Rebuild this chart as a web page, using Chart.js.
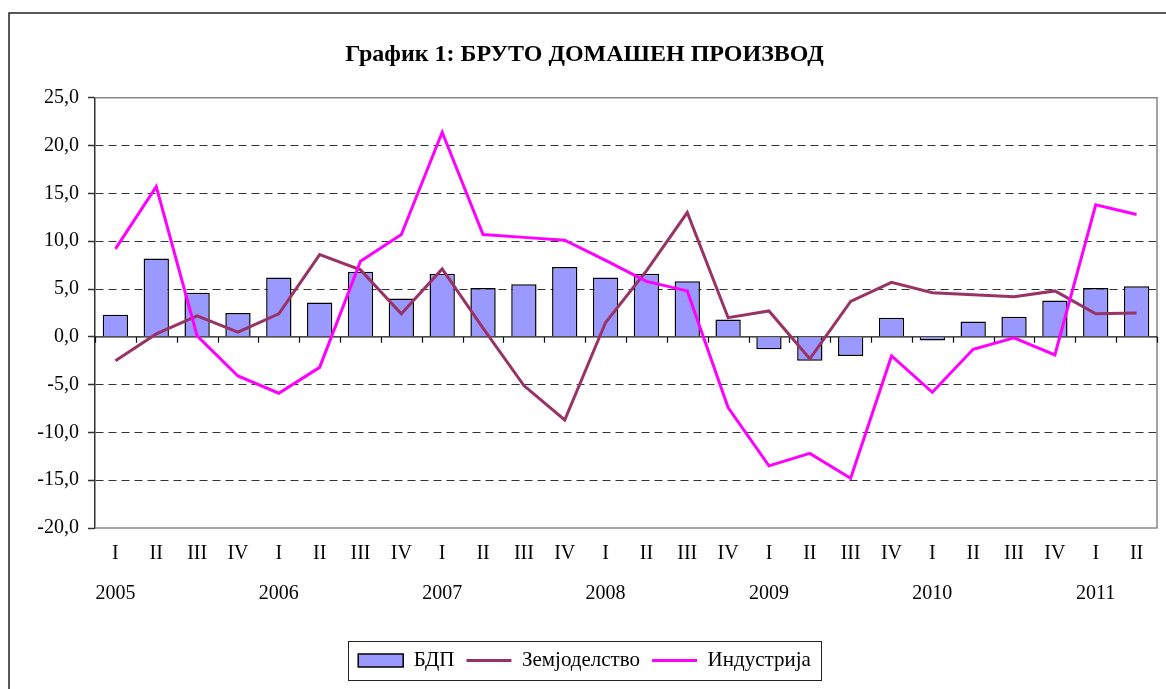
<!DOCTYPE html>
<html>
<head>
<meta charset="utf-8">
<script src="https://cdn.jsdelivr.net/npm/chart.js@4.4.1/dist/chart.umd.min.js"></script>
<style>
  html, body { margin: 0; padding: 0; background: #fff; }
  #wrap { width: 1166px; height: 689px; }
</style>
</head>
<body>
<div id="wrap"><canvas id="gdp-chart"></canvas></div>
<script>
// quarters 2005 I .. 2011 II
const quarters = ["I", "II", "III", "IV", "I", "II", "III", "IV", "I", "II", "III", "IV", "I",
  "II", "III", "IV", "I", "II", "III", "IV", "I", "II", "III", "IV", "I", "II"];
const years = ["2005", "", "", "", "2006", "", "", "", "2007", "", "", "", "2008",
  "", "", "", "2009", "", "", "", "2010", "", "", "", "2011", ""];

const gdp = [2.3, 8.2, 4.6, 2.5, 6.2, 3.6, 6.8, 4.0, 6.6, 5.1, 5.5, 7.3, 6.2,
  6.6, 5.8, 1.8, -1.3, -2.5, -2.0, 2.0, -0.4, 1.6, 2.1, 3.8, 5.1, 5.3];
const agriculture = [-2.5, 0.3, 2.2, 0.5, 2.4, 8.6, 7.0, 2.4, 7.1, 0.9, -5.1, -8.7, 1.5,
  6.9, 13.0, 2.0, 2.7, -2.3, 3.7, 5.7, 4.6, 4.4, 4.2, 4.8, 2.4, 2.5];
const industry = [9.2, 15.7, 0.1, -4.1, -5.9, -3.2, 7.9, 10.7, 21.4, 10.7, 10.4, 10.1, 8.0,
  5.8, 4.8, -7.4, -13.5, -12.2, -14.8, -2.0, -5.8, -1.3, -0.1, -1.9, 13.8, 12.8];

const yTicks = [-20, -15, -10, -5, 0, 5, 10, 15, 20, 25];

const serif = "'Liberation Serif', 'Times New Roman', serif";

// outer frame of the chart object
const framePlugin = {
  id: "frame",
  beforeDraw(chart) {
    const ctx = chart.ctx;
    ctx.save();
    ctx.fillStyle = "#fff";
    ctx.fillRect(0, 0, chart.width, chart.height);
    ctx.strokeStyle = "#222";
    ctx.lineWidth = 1.5;
    ctx.beginPath();
    ctx.moveTo(9, chart.height + 2);
    ctx.lineTo(9, 13);
    ctx.lineTo(chart.width + 2, 13);
    ctx.stroke();
    ctx.restore();
  },
};

// plot border, zero axis with category ticks, legend box
const axisPlugin = {
  id: "zeroAxis",
  beforeDatasetsDraw(chart) {
    const { ctx, chartArea: a, scales } = chart;
    const y0 = scales.y.getPixelForValue(0);
    ctx.save();
    ctx.strokeStyle = "#888";
    ctx.lineWidth = 1.5;
    ctx.beginPath();
    ctx.moveTo(a.left, a.top);
    ctx.lineTo(a.right, a.top);
    ctx.lineTo(a.right, a.bottom);
    ctx.lineTo(a.left, a.bottom);
    ctx.stroke();

    ctx.strokeStyle = "#111";
    ctx.lineWidth = 1.2;
    ctx.beginPath();
    ctx.moveTo(a.left, y0);
    ctx.lineTo(a.right, y0);
    const step = scales.x.getPixelForValue(1) - scales.x.getPixelForValue(0);
    for (let i = 0; i <= quarters.length; i++) {
      const x = Math.round(scales.x.getPixelForValue(i) - step / 2) + 0.5;
      ctx.moveTo(x, y0);
      ctx.lineTo(x, y0 + 6);
    }
    ctx.stroke();
    ctx.restore();
  },
  afterDraw(chart) {
    const boxes = chart.legend.legendHitBoxes;
    if (!boxes || !boxes.length) return;
    const ctx = chart.ctx;
    const left = boxes[0].left - 10;
    const last = boxes[boxes.length - 1];
    const right = last.left + last.width + 10;
    const top = boxes[0].top - 9;
    const bottom = boxes[0].top + boxes[0].height + 9;
    ctx.save();
    ctx.strokeStyle = "#222";
    ctx.lineWidth = 1;
    ctx.strokeRect(Math.round(left) + 0.5, Math.round(top) + 0.5, Math.round(right - left), Math.round(bottom - top));
    ctx.restore();
  },
};

const data = {
  labels: quarters.map((q, i) => [q, years[i]]),
  datasets: [
    {
      type: "bar",
      label: "БДП",
      data: gdp,
      backgroundColor: "#9999FF",
      borderColor: "#000",
      borderWidth: 1.5,
      barPercentage: 0.62,
      categoryPercentage: 1,
      order: 3,
    },
    {
      type: "line",
      label: "Земјоделство",
      data: agriculture,
      borderColor: "#993366",
      backgroundColor: "#993366",
      borderWidth: 3,
      pointRadius: 0,
      tension: 0,
      order: 2,
    },
    {
      type: "line",
      label: "Индустрија",
      data: industry,
      borderColor: "#FF00FF",
      backgroundColor: "#FF00FF",
      borderWidth: 3,
      pointRadius: 0,
      tension: 0,
      order: 1,
    },
  ],
};

const options = {
  responsive: true,
  maintainAspectRatio: false,
  animation: false,
  events: [],
  layout: { padding: { left: 12, right: 9, top: 0, bottom: 8 } },
  plugins: {
    title: {
      display: true,
      text: "График 1: БРУТО ДОМАШЕН ПРОИЗВОД",
      color: "#000",
      font: { family: serif, size: 24, weight: "bold" },
      padding: { top: 40, bottom: 29 },
    },
    legend: {
      position: "bottom",
      labels: {
        color: "#000",
        font: { family: serif, size: 21 },
        boxWidth: 45,
        boxHeight: 13,
        usePointStyle: true,
        pointStyleWidth: 45,
        padding: 12,
        sort: (a, b) => a.datasetIndex - b.datasetIndex,
        generateLabels(chart) {
          const items = Chart.defaults.plugins.legend.labels.generateLabels(chart);
          items.forEach((it) => {
            it.pointStyle = it.datasetIndex === 0 ? "rect" : "line";
          });
          return items;
        },
      },
    },
    tooltip: { enabled: false },
  },
  scales: {
    x: {
      grid: { display: false, drawTicks: false },
      border: { display: false },
      ticks: {
        color: "#000",
        font: { family: serif, size: 20, lineHeight: 2 },
        padding: 6,
        maxRotation: 0,
        autoSkip: false,
      },
      afterFit(scale) {
        scale.height = 110;
      },
    },
    y: {
      min: -20,
      max: 25,
      afterBuildTicks(scale) {
        scale.ticks = yTicks.map((v) => ({ value: v }));
      },
      afterFit(scale) {
        scale.width = 95 - 12;
      },
      grid: {
        color: (c) => (c.tick && [0, 25, -20].includes(c.tick.value) ? "rgba(0,0,0,0)" : "#333"),
        lineWidth: 1,
        tickColor: "#333",
        tickLength: 7,
        tickWidth: 1.5,
        tickBorderDash: [],
      },
      border: { display: true, color: "#333", width: 1.5, dash: [8, 5] },
      ticks: {
        color: "#000",
        font: { family: serif, size: 20 },
        padding: 9,
        callback: (v) => v.toFixed(1).replace(".", ","),
      },
    },
  },
};

new Chart(document.getElementById("gdp-chart"), {
  data,
  options,
  plugins: [framePlugin, axisPlugin],
});
</script>
</body>
</html>
